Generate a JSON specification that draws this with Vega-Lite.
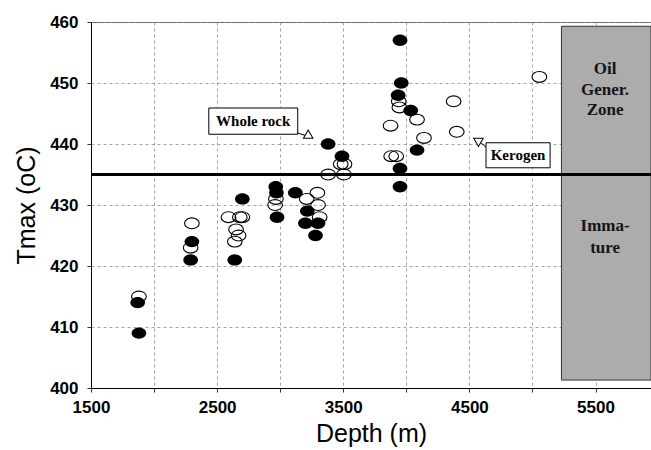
{
  "$schema": "https://vega.github.io/schema/vega-lite/v6.json",
  "width": 560,
  "height": 366,
  "autosize": {"type": "none"},
  "padding": {"left": 91, "top": 22, "right": 0, "bottom": 62},
  "background": "white",
  "datasets": {
    "wholerock": [
      {"depth": 1870, "tmax": 414}, {"depth": 1880, "tmax": 409},
      {"depth": 2300, "tmax": 424}, {"depth": 2290, "tmax": 421},
      {"depth": 2700, "tmax": 431}, {"depth": 2640, "tmax": 421},
      {"depth": 2965, "tmax": 433}, {"depth": 2970, "tmax": 432},
      {"depth": 2975, "tmax": 428}, {"depth": 3120, "tmax": 432},
      {"depth": 3215, "tmax": 429}, {"depth": 3200, "tmax": 427},
      {"depth": 3300, "tmax": 427}, {"depth": 3280, "tmax": 425},
      {"depth": 3380, "tmax": 440}, {"depth": 3490, "tmax": 438},
      {"depth": 3950, "tmax": 457}, {"depth": 3960, "tmax": 450},
      {"depth": 3935, "tmax": 448}, {"depth": 4035, "tmax": 445.5},
      {"depth": 4085, "tmax": 439}, {"depth": 3950, "tmax": 436},
      {"depth": 3950, "tmax": 433}
    ],
    "kerogen": [
      {"depth": 1880, "tmax": 415}, {"depth": 2300, "tmax": 427},
      {"depth": 2290, "tmax": 423}, {"depth": 2590, "tmax": 428},
      {"depth": 2680, "tmax": 428}, {"depth": 2700, "tmax": 428},
      {"depth": 2650, "tmax": 426}, {"depth": 2670, "tmax": 425},
      {"depth": 2640, "tmax": 424}, {"depth": 2966, "tmax": 431},
      {"depth": 2960, "tmax": 430}, {"depth": 3210, "tmax": 431},
      {"depth": 3295, "tmax": 432}, {"depth": 3300, "tmax": 430},
      {"depth": 3313, "tmax": 428}, {"depth": 3480, "tmax": 436.7},
      {"depth": 3510, "tmax": 436.7}, {"depth": 3380, "tmax": 435},
      {"depth": 3505, "tmax": 435}, {"depth": 3940, "tmax": 447},
      {"depth": 3945, "tmax": 446}, {"depth": 4085, "tmax": 444},
      {"depth": 3875, "tmax": 443}, {"depth": 4140, "tmax": 441},
      {"depth": 4375, "tmax": 447}, {"depth": 4400, "tmax": 442},
      {"depth": 5055, "tmax": 451}, {"depth": 3880, "tmax": 438},
      {"depth": 3920, "tmax": 438}
    ],
    "zone": [{"depth": 5230, "depth2": 5940, "tmax": 401.3, "tmax2": 459.3}],
    "zonetext": [
      {"depth": 5576, "tmax": 452.3, "label": "Oil"},
      {"depth": 5576, "tmax": 448.9, "label": "Gener."},
      {"depth": 5576, "tmax": 445.5, "label": "Zone"},
      {"depth": 5576, "tmax": 426.6, "label": "Imma-"},
      {"depth": 5576, "tmax": 423.0, "label": "ture"}
    ],
    "boxes": [
      {"depth": 2434, "depth2": 3139, "tmax": 441.6, "tmax2": 445.9, "cx": 2786, "cy": 443.75, "label": "Whole rock"},
      {"depth": 4632, "depth2": 5140, "tmax": 436.1, "tmax2": 440.2, "cx": 4886, "cy": 438.15, "label": "Kerogen"}
    ],
    "stems": [
      {"depth": 3139, "tmax": 441.8, "depth2": 3200, "tmax2": 441.4},
      {"depth": 4632, "tmax": 439.5, "depth2": 4585, "tmax2": 440.3}
    ],
    "heads1": [{"depth": 3222, "tmax": 441.4}],
    "heads2": [{"depth": 4572, "tmax": 440.5}]
  },
  "config": {
    "view": {"stroke": "#666", "strokeWidth": 1},
    "axis": {
      "labelFont": "Liberation Sans",
      "titleFont": "Liberation Sans",
      "labelColor": "#000",
      "titleColor": "#000",
      "labelFontWeight": "bold",
      "labelFontSize": 17,
      "titleFontWeight": "normal",
      "titleFontSize": 25,
      "domainColor": "#000",
      "domainWidth": 1,
      "tickColor": "#333",
      "tickSize": 4,
      "gridColor": "#888",
      "gridDash": [3, 3],
      "gridWidth": 1,
      "gridOpacity": 0.75
    }
  },
  "layer": [
    {
      "data": {"name": "zone"},
      "mark": {"type": "rect", "fill": "#acacac", "stroke": "#333", "strokeWidth": 1, "clip": true},
      "encoding": {
        "x": {"field": "depth", "type": "quantitative", "title": "Depth (m)",
          "scale": {"domain": [1500, 5940], "nice": false, "zero": false},
          "axis": {"values": [1500, 2000, 2500, 3000, 3500, 4000, 4500, 5000, 5500],
            "labelExpr": "datum.value % 1000 == 500 ? datum.label : ''",
            "format": "d", "labelPadding": 7, "titlePadding": 6, "labelFlush": false}},
        "x2": {"field": "depth2"},
        "y": {"field": "tmax", "type": "quantitative", "title": "Tmax (oC)",
          "scale": {"domain": [400, 460], "nice": false, "zero": false},
          "axis": {"values": [400, 405, 410, 415, 420, 425, 430, 435, 440, 445, 450, 455, 460],
            "labelExpr": "datum.value % 10 == 0 ? datum.label : ''",
            "labelPadding": 9, "titlePadding": 10}},
        "y2": {"field": "tmax2"}
      }
    },
    {
      "data": {"name": "zonetext"},
      "mark": {"type": "text", "font": "Liberation Serif", "fontWeight": "bold", "fontSize": 17, "color": "#151515", "align": "center", "baseline": "middle"},
      "encoding": {
        "x": {"field": "depth", "type": "quantitative", "title": "Depth (m)"},
        "y": {"field": "tmax", "type": "quantitative", "title": "Tmax (oC)"},
        "text": {"field": "label"}
      }
    },
    {
      "data": {"values": [{"tmax": 435}]},
      "mark": {"type": "rule", "color": "#000", "strokeWidth": 3},
      "encoding": {
        "y": {"field": "tmax", "type": "quantitative", "title": "Tmax (oC)"}
      }
    },
    {
      "data": {"name": "wholerock"},
      "mark": {"type": "point", "shape": "M-1,0A1,0.78,0,1,0,1,0A1,0.78,0,1,0,-1,0Z", "size": 215, "filled": true, "color": "#000", "opacity": 1},
      "encoding": {
        "x": {"field": "depth", "type": "quantitative", "title": "Depth (m)"},
        "y": {"field": "tmax", "type": "quantitative", "title": "Tmax (oC)"}
      }
    },
    {
      "data": {"name": "kerogen"},
      "mark": {"type": "point", "shape": "M-1,0A1,0.74,0,1,0,1,0A1,0.74,0,1,0,-1,0Z", "size": 215, "filled": false, "stroke": "#000", "strokeWidth": 1.1, "opacity": 1},
      "encoding": {
        "x": {"field": "depth", "type": "quantitative", "title": "Depth (m)"},
        "y": {"field": "tmax", "type": "quantitative", "title": "Tmax (oC)"}
      }
    },
    {
      "data": {"name": "boxes"},
      "mark": {"type": "rect", "fill": "white", "stroke": "#000", "strokeWidth": 1},
      "encoding": {
        "x": {"field": "depth", "type": "quantitative", "title": "Depth (m)"},
        "x2": {"field": "depth2"},
        "y": {"field": "tmax", "type": "quantitative", "title": "Tmax (oC)"},
        "y2": {"field": "tmax2"}
      }
    },
    {
      "data": {"name": "boxes"},
      "mark": {"type": "text", "font": "Liberation Serif", "fontWeight": "bold", "fontSize": 15, "color": "#000", "align": "center", "baseline": "middle"},
      "encoding": {
        "x": {"field": "cx", "type": "quantitative", "title": "Depth (m)"},
        "y": {"field": "cy", "type": "quantitative", "title": "Tmax (oC)"},
        "text": {"field": "label"}
      }
    },
    {
      "data": {"name": "stems"},
      "mark": {"type": "rule", "color": "#000", "strokeWidth": 1},
      "encoding": {
        "x": {"field": "depth", "type": "quantitative", "title": "Depth (m)"},
        "x2": {"field": "depth2"},
        "y": {"field": "tmax", "type": "quantitative", "title": "Tmax (oC)"},
        "y2": {"field": "tmax2"}
      }
    },
    {
      "data": {"name": "heads1"},
      "mark": {"type": "point", "shape": "triangle", "size": 90, "angle": 120, "filled": true, "fill": "white", "stroke": "#000", "strokeWidth": 1, "opacity": 1},
      "encoding": {
        "x": {"field": "depth", "type": "quantitative", "title": "Depth (m)"},
        "y": {"field": "tmax", "type": "quantitative", "title": "Tmax (oC)"}
      }
    },
    {
      "data": {"name": "heads2"},
      "mark": {"type": "point", "shape": "triangle", "size": 90, "angle": 300, "filled": true, "fill": "white", "stroke": "#000", "strokeWidth": 1, "opacity": 1},
      "encoding": {
        "x": {"field": "depth", "type": "quantitative", "title": "Depth (m)"},
        "y": {"field": "tmax", "type": "quantitative", "title": "Tmax (oC)"}
      }
    }
  ]
}
